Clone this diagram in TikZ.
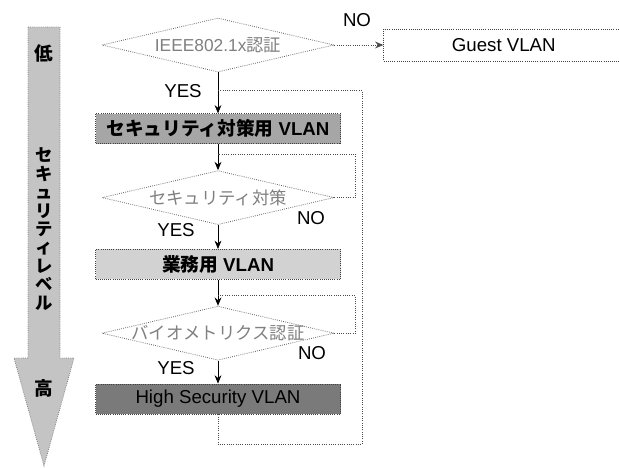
\documentclass[tikz,border=0pt]{standalone}
\usepackage{fontspec}
\setmainfont{Liberation Sans}
\newfontfamily\jp{Noto Sans CJK JP}
\usetikzlibrary{
  arrows.meta,
  shapes.geometric,
  positioning,
  calc
}
\definecolor{vlScale}{HTML}{C4C4C4}
\definecolor{vlSec}{HTML}{A6A6A6}
\definecolor{vlWork}{HTML}{D2D2D2}
\definecolor{vlHigh}{HTML}{7A7A7A}
\definecolor{vlEdge}{HTML}{4A4A4A}
\tikzset{
  vlbox/.style={
    draw=black!75, densely dotted, line width=0.6pt, minimum width=183.75pt, minimum height=22.5pt,
    inner sep=0pt, font=\fontsize{14}{16}\selectfont
  },
  decision/.style={
    diamond, draw=black!60, densely dotted, line width=0.6pt, fill=white, inner sep=0pt,
    minimum width=174pt, minimum height=40.5pt,
    font=\fontsize{13}{15}\selectfont, text=black!50
  },
  scalebar/.style={fill=vlScale, draw=black!50, densely dotted, line width=0.6pt},
  scaletxt/.style={font=\jp\bfseries\fontsize{14}{14}\selectfont, inner sep=0pt},
  yesno/.style={font=\fontsize{14}{16}\selectfont, inner sep=0pt},
  flow/.style={-{Stealth[length=2.2mm, width=1.8mm]}, black, line width=0.6pt},
  loopline/.style={vlEdge, densely dotted, line width=0.7pt}
}

\begin{document}
\begin{tikzpicture}[x=0.75pt, y=-0.75pt]
  \useasboundingbox (0,0) rectangle (619,468);
  % security level scale
  \draw[scalebar] (28,27) -- (60,27) -- (60,358) -- (74,358) -- (44,466) -- (14,358) -- (28,358) -- cycle;
  \node[scaletxt] (low) at (44,53) {低};
  \node[scaletxt, align=center, font=\jp\bfseries\fontsize{13}{13.8}\selectfont] (level) at (44,229)
    {セ\\キ\\ュ\\リ\\テ\\ィ\\レ\\ベ\\ル};
  \node[scaletxt] (high) at (44,388) {高};

  % authentication chain
  \node[decision] (auth) at (218,45) {\makebox[0pt]{IEEE802.1x{\jp 認証}}};
  \node[vlbox, fill=white, minimum width=180pt, minimum height=24pt, right=36.75pt of auth] (guest) {Guest VLAN};
  \node[vlbox, fill=vlSec, below=30.75pt of auth] (secvlan) {{\jp\bfseries セキュリティ対策用} \textbf{VLAN}};
  \node[decision, below=19.5pt of secvlan] (secchk) {\makebox[0pt]{\jp セキュリティ対策}};
  \node[vlbox, fill=vlWork, below=18pt of secchk] (workvlan) {{\jp\bfseries 業務用} \textbf{VLAN}};
  \node[decision, below=19.5pt of workvlan] (biochk) {\makebox[0pt]{\jp バイオメトリクス認証}};
  \node[vlbox, fill=vlHigh, below=17.25pt of biochk] (highvlan) {High Security VLAN};

  \coordinate (j1) at ($(secvlan.north)+(0,-23)$);
  \coordinate (j2) at ($(secvlan.south)+(0,10)$);
  \coordinate (j3) at ($(workvlan.south)+(0,16)$);
  \coordinate (bend) at ($(highvlan.south)+(0,30)$);

  \foreach \a/\b in {auth/secvlan, secvlan/secchk, secchk/workvlan, workvlan/biochk, biochk/highvlan}
    {\draw[flow] (\a.south) -- (\b.north);}
  \draw[loopline, -{Stealth[length=2.2mm, width=1.8mm]}] (auth.east) -- (guest.west);
  \draw[loopline] (secchk.east) -- ++(21,0) |- (j2);
  \draw[loopline] (biochk.east) -- ++(21,0) |- (j3);
  \draw[loopline] (highvlan.south) -- (bend) -- ++(144,0) |- (j1);

  \node[yesno] (no1) at (357,20) {NO};
  \node[yesno] (yes1) at (183,91) {YES};
  \node[yesno] (no2) at (311,218) {NO};
  \node[yesno] (yes2) at (176,230) {YES};
  \node[yesno] (no3) at (312,353) {NO};
  \node[yesno] (yes3) at (176,368) {YES};
\end{tikzpicture}
\end{document}
